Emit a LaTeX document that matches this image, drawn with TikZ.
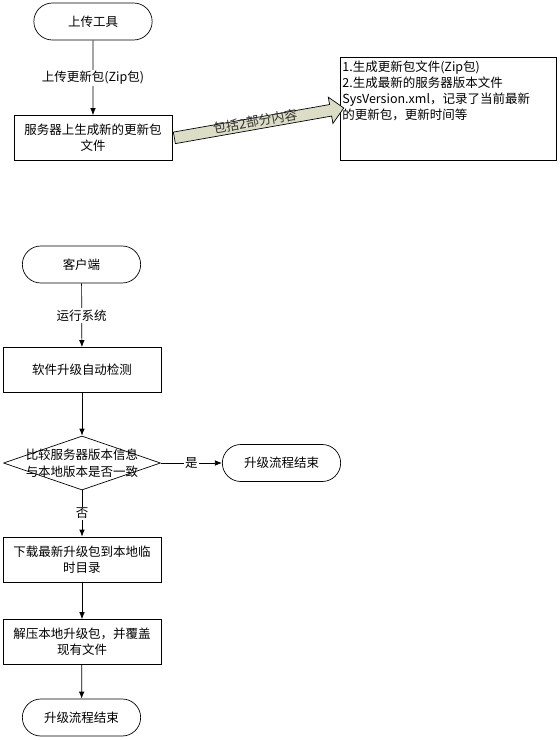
\documentclass[tikz,border=0pt]{standalone}
\usepackage{fontspec}
\setmainfont{Noto Sans CJK SC}
\usetikzlibrary{arrows.meta, calc, positioning}
\usetikzlibrary{shapes.misc, shapes.geometric, shapes.arrows}
\definecolor{arrowfill}{RGB}{219,221,198}

\begin{document}
\begin{tikzpicture}[x=1pt,y=-1pt,>={Latex[length=7pt,width=5.5pt]},line width=0.7pt,
    every node/.style={font=\fontsize{12.5}{16}\selectfont},
    term/.style={draw,rounded rectangle,minimum width=125pt,minimum height=37pt},
    proc/.style={draw,rectangle,minimum width=158pt,minimum height=45pt,align=center},
    decide/.style={draw,diamond,minimum width=157pt,minimum height=54pt,inner sep=0pt},
    lbl/.style={fill=white,inner sep=1.5pt}]
\useasboundingbox (0,0) rectangle (560,740);
% server side
\node[term] (uptool) at (93,21.5) {上传工具};
\node[proc] (srv) at (93,138) {服务器上生成新的更新包\\文件};
\draw[->] (uptool) -- node[lbl]{上传更新包(Zip包)} (srv);
\node[draw,anchor=north west,minimum width=216pt,minimum height=103pt] (note) at (340,57) {};
\node[anchor=north west,align=left,inner xsep=2pt,inner ysep=4pt] (notetext) at (note.north west)
    {1.生成更新包文件(Zip包)\\2.生成最新的服务器版本文件\\SysVersion.xml，记录了当前最新\\的更新包，更新时间等};
\node[single arrow,draw,fill=arrowfill,rotate=10,minimum height=172pt,inner xsep=0pt,inner ysep=5.5pt,
    single arrow head extend=7.5pt] (pack) at ($(srv.east)!0.5!(note.west)$) {};
\node[rotate=10,inner sep=0pt,text=black!80,font=\fontsize{13}{16}\selectfont] (packtext)
    at ($(pack.center)+(-1,-2)$) {包括2部分内容};
% client side
\node[term] (client) at (81.5,264.5) {客户端};
\node[proc] (check) at (82,370) {软件升级自动检测};
\node[decide] (cmp) at (82,463) {};
\node[align=center,font=\fontsize{12.5}{17}\selectfont] (cmptext) at (cmp.center) {比较服务器版本信息\\与本地版本是否一致};
\node[term] (endA) at (281.5,463) {升级流程结束};
\node[proc] (down) at (82,559.5) {下载最新升级包到本地临\\时目录};
\node[proc] (unzip) at (82,642) {解压本地升级包，并覆盖\\现有文件};
\node[term] (endB) at (81.5,717.5) {升级流程结束};
\draw[->] (client) -- node[lbl]{运行系统} (check);
\draw[->] (check) -- (cmp);
\draw[->] (cmp) -- node[lbl]{是} (endA);
\draw[->] (cmp) -- node[lbl]{否} (down);
\draw[->] (down) -- (unzip);
\draw[->] (unzip) -- (endB);

\end{tikzpicture}
\end{document}
